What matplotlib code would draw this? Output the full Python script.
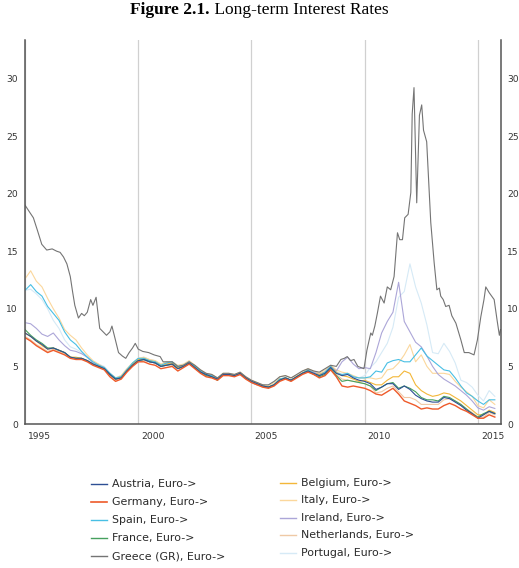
import numpy as np
import matplotlib
matplotlib.use("Agg")
import matplotlib.pyplot as plt
import matplotlib.transforms as mtransforms
from matplotlib.lines import Line2D

# ---------------- data (quarterly) ----------------
years = np.arange(1995, 2016, 0.25)  # 1995.00 ... 2015.75

austria = [7.9, 7.6, 7.2, 6.9, 6.5, 6.6, 6.4, 6.2, 5.8, 5.7, 5.7, 5.5, 5.2, 5.0, 4.8, 4.3,
           3.9, 4.0, 4.6, 5.1, 5.5, 5.6, 5.4, 5.3, 5.0, 5.1, 5.2, 4.8, 5.0, 5.3, 4.9, 4.5,
           4.3, 4.1, 3.9, 4.3, 4.3, 4.2, 4.4, 4.0, 3.7, 3.5, 3.3, 3.2, 3.4, 3.8, 4.0, 3.8,
           4.1, 4.4, 4.6, 4.4, 4.2, 4.4, 4.9, 4.4, 4.2, 4.3, 4.0, 3.8, 3.7, 3.5, 3.0, 3.2,
           3.5, 3.5, 3.0, 3.3, 3.0, 2.5, 2.2, 2.0, 1.9, 1.9, 2.3, 2.2, 1.9, 1.6, 1.2, 0.9,
           0.5, 0.8, 1.1, 0.9]
germany = [7.5, 7.2, 6.8, 6.5, 6.2, 6.4, 6.2, 6.0, 5.7, 5.6, 5.6, 5.4, 5.1, 4.9, 4.7, 4.1,
           3.7, 3.9, 4.5, 5.0, 5.4, 5.4, 5.2, 5.1, 4.8, 4.9, 5.0, 4.6, 4.9, 5.2, 4.8, 4.4,
           4.1, 4.0, 3.8, 4.2, 4.2, 4.1, 4.3, 3.9, 3.6, 3.4, 3.2, 3.1, 3.3, 3.7, 3.9, 3.7,
           4.0, 4.3, 4.5, 4.3, 4.0, 4.2, 4.7, 4.1, 3.3, 3.2, 3.3, 3.2, 3.1, 2.9, 2.6, 2.5,
           2.8, 3.1, 2.6, 2.0, 1.8, 1.6, 1.3, 1.4, 1.3, 1.3, 1.6, 1.8, 1.6, 1.3, 1.1, 0.8,
           0.5, 0.5, 0.8, 0.6]
spain = [11.6, 12.1, 11.5, 11.1, 10.2, 9.6, 9.0, 8.0, 7.3, 6.9, 6.3, 5.8, 5.4, 5.1, 4.9, 4.4,
         4.0, 4.1, 4.7, 5.3, 5.7, 5.7, 5.5, 5.4, 5.1, 5.3, 5.4, 5.0, 5.1, 5.4, 5.0, 4.6,
         4.3, 4.2, 3.9, 4.3, 4.3, 4.2, 4.4, 4.0, 3.7, 3.5, 3.3, 3.2, 3.4, 3.9, 4.0, 3.8,
         4.1, 4.4, 4.7, 4.4, 4.2, 4.5, 5.0, 4.4, 4.3, 4.4, 4.1, 4.0, 4.0, 4.1, 4.6, 4.5,
         5.3, 5.5, 5.6, 5.4, 5.4, 6.0, 6.6, 5.9, 5.5, 5.1, 4.7, 4.6, 4.0, 3.3, 2.7, 2.4,
         2.0, 1.7, 2.1, 2.1]
france = [8.2, 7.7, 7.3, 7.0, 6.6, 6.6, 6.4, 6.2, 5.8, 5.7, 5.7, 5.5, 5.2, 5.0, 4.8, 4.3,
          3.9, 4.0, 4.6, 5.1, 5.5, 5.6, 5.4, 5.3, 5.0, 5.1, 5.2, 4.8, 5.0, 5.3, 4.9, 4.5,
          4.2, 4.1, 3.8, 4.3, 4.3, 4.2, 4.4, 4.0, 3.7, 3.5, 3.3, 3.2, 3.4, 3.8, 4.0, 3.8,
          4.1, 4.4, 4.6, 4.3, 4.1, 4.3, 4.8, 4.2, 3.7, 3.8, 3.7, 3.6, 3.5, 3.3, 2.9, 3.2,
          3.5, 3.6, 3.1, 3.3, 3.1, 2.8, 2.3, 2.1, 2.1, 2.0, 2.4, 2.3, 2.0, 1.7, 1.3, 0.9,
          0.6, 0.9, 1.1, 0.9]
belgium = [7.9, 7.6, 7.2, 6.8, 6.5, 6.6, 6.4, 6.2, 5.8, 5.8, 5.7, 5.5, 5.2, 5.0, 4.8, 4.3,
           3.9, 4.1, 4.7, 5.2, 5.6, 5.7, 5.5, 5.4, 5.1, 5.2, 5.3, 4.9, 5.1, 5.3, 5.0, 4.6,
           4.3, 4.2, 3.9, 4.3, 4.3, 4.2, 4.4, 4.0, 3.7, 3.5, 3.3, 3.2, 3.4, 3.9, 4.0, 3.8,
           4.1, 4.4, 4.7, 4.4, 4.3, 4.5, 5.0, 4.5, 4.2, 4.1, 3.9, 3.7, 3.8, 3.6, 3.4, 3.4,
           3.8, 4.1, 4.1, 4.6, 4.4, 3.4, 2.9, 2.6, 2.4, 2.5, 2.7, 2.6, 2.3, 2.0, 1.6, 1.2,
           0.8, 0.8, 1.2, 1.0]
italy = [12.6, 13.3, 12.4, 11.9, 10.9, 10.0, 9.2, 8.2, 7.7, 7.3, 6.6, 6.0, 5.5, 5.2, 4.9, 4.4,
         4.0, 4.2, 4.8, 5.3, 5.7, 5.8, 5.6, 5.5, 5.2, 5.4, 5.4, 5.1, 5.2, 5.5, 5.1, 4.7,
         4.4, 4.3, 4.0, 4.4, 4.4, 4.3, 4.5, 4.1, 3.8, 3.6, 3.4, 3.3, 3.6, 4.1, 4.2, 4.0,
         4.2, 4.6, 4.8, 4.6, 4.4, 4.7, 5.1, 4.7, 4.5, 4.4, 4.2, 4.0, 4.0, 4.0, 3.9, 4.0,
         4.7, 4.8, 5.3, 6.0, 6.9, 5.4, 6.0, 5.0, 4.4, 4.4, 4.4, 4.3, 3.7, 3.2, 2.8, 2.4,
         1.6, 1.4, 2.1, 1.7]
ireland = [8.8, 8.7, 8.3, 7.8, 7.6, 7.9, 7.3, 6.8, 6.4, 6.3, 6.1, 5.8, 5.3, 5.1, 4.9, 4.4,
           3.9, 4.1, 4.7, 5.2, 5.6, 5.6, 5.4, 5.3, 5.0, 5.2, 5.3, 4.9, 5.0, 5.3, 5.0, 4.6,
           4.3, 4.2, 3.9, 4.3, 4.3, 4.2, 4.3, 4.0, 3.6, 3.4, 3.3, 3.2, 3.4, 3.9, 4.0, 3.8,
           4.1, 4.4, 4.7, 4.5, 4.3, 4.5, 5.0, 4.6, 5.4, 5.8, 5.2, 4.8, 4.9, 4.8, 6.2, 7.9,
           8.9, 9.7, 12.3, 8.9, 8.0, 7.1, 6.7, 5.9, 5.0, 4.3, 3.9, 3.6, 3.3, 2.9, 2.5, 2.0,
           1.4, 1.2, 1.5, 1.35]
netherlands = [7.6, 7.3, 6.9, 6.6, 6.3, 6.5, 6.3, 6.1, 5.8, 5.7, 5.7, 5.5, 5.2, 5.0, 4.8, 4.2,
               3.8, 4.0, 4.6, 5.1, 5.5, 5.5, 5.4, 5.3, 5.0, 5.1, 5.1, 4.8, 5.0, 5.3, 4.9, 4.5,
               4.2, 4.1, 3.8, 4.3, 4.3, 4.2, 4.3, 3.9, 3.6, 3.4, 3.2, 3.2, 3.4, 3.8, 3.9, 3.8,
               4.1, 4.4, 4.6, 4.3, 4.2, 4.3, 4.8, 4.3, 3.9, 3.8, 3.7, 3.6, 3.5, 3.3, 2.7, 2.8,
               3.1, 3.3, 2.8, 2.3, 2.3, 2.1, 1.7, 1.7, 1.7, 1.7, 2.1, 2.2, 2.0, 1.7, 1.3, 1.0,
               0.6, 0.6, 1.0, 0.8]
portugal = [11.6, 11.7, 11.3, 10.8, 10.0, 9.0, 8.3, 7.3, 6.7, 6.5, 6.2, 5.8, 5.3, 5.2, 5.0, 4.4,
            4.0, 4.2, 4.8, 5.3, 5.7, 5.8, 5.6, 5.5, 5.2, 5.3, 5.4, 5.0, 5.1, 5.4, 5.0, 4.7,
            4.3, 4.2, 4.0, 4.3, 4.3, 4.3, 4.4, 4.0, 3.7, 3.5, 3.3, 3.3, 3.5, 3.9, 4.1, 3.8,
            4.1, 4.5, 4.7, 4.5, 4.3, 4.6, 5.0, 4.6, 4.3, 4.3, 4.1, 4.0, 4.2, 4.9, 5.4, 6.2,
            7.0, 8.4, 11.0, 11.5, 13.9, 11.9, 10.5, 8.6, 6.2, 6.1, 7.0, 6.3, 5.3, 3.8, 3.6, 3.2,
            2.5, 2.0, 2.9, 2.4]

greece_years = [1995.0, 1995.2, 1995.37, 1995.55, 1995.74, 1995.96, 1996.2, 1996.4, 1996.55,
                1996.7, 1996.85, 1997.0, 1997.1, 1997.2, 1997.36, 1997.5, 1997.62, 1997.75,
                1997.9, 1998.0, 1998.14, 1998.3, 1998.45, 1998.6, 1998.75, 1998.84, 1998.98,
                1999.13, 1999.3, 1999.45, 1999.6, 1999.75, 1999.87, 2000.0, 2000.2, 2000.46,
                2000.7, 2000.97, 2001.1, 2001.25, 2001.5, 2001.75, 2002.0, 2002.25, 2002.5,
                2002.75, 2003.0, 2003.25, 2003.5, 2003.75, 2004.0, 2004.25, 2004.5, 2004.75,
                2005.0, 2005.25, 2005.5, 2005.75, 2006.0, 2006.25, 2006.5, 2006.75, 2007.0,
                2007.25, 2007.5, 2007.75, 2008.0, 2008.25, 2008.5, 2008.75, 2008.95, 2009.1,
                2009.23, 2009.38, 2009.53, 2009.7, 2009.97, 2010.1, 2010.27, 2010.34, 2010.45,
                2010.56, 2010.7, 2010.86, 2011.0, 2011.15, 2011.3, 2011.45, 2011.55, 2011.67,
                2011.77, 2011.92, 2012.04, 2012.1, 2012.18, 2012.3, 2012.42, 2012.52, 2012.6,
                2012.74, 2012.92, 2013.07, 2013.19, 2013.3, 2013.36, 2013.47, 2013.58, 2013.73,
                2013.85, 2014.03, 2014.25, 2014.4, 2014.6, 2014.83, 2014.98, 2015.13, 2015.27,
                2015.35, 2015.5, 2015.72, 2015.85, 2015.95, 2016.0]
greece = [19.0, 18.4, 17.9, 16.8, 15.6, 15.1, 15.2, 15.0, 14.9,
          14.5, 13.9, 12.8, 11.5, 10.3, 9.2, 9.6, 9.4, 9.7,
          10.8, 10.3, 11.0, 8.3, 8.0, 7.7, 8.0, 8.5, 7.4,
          6.2, 5.9, 5.7, 6.2, 6.6, 7.0, 6.5, 6.3, 6.2,
          6.0, 5.85, 5.4, 5.4, 5.4, 5.0, 5.1, 5.4, 5.1,
          4.7, 4.4, 4.3, 4.0, 4.4, 4.4, 4.3, 4.5, 4.1,
          3.8, 3.6, 3.4, 3.4, 3.7, 4.1, 4.2, 4.0, 4.3,
          4.6, 4.8, 4.6, 4.5, 4.8, 5.1, 5.0, 5.6, 5.7,
          5.85, 5.5, 5.6, 5.0, 4.8, 6.4, 7.9, 7.7, 8.5,
          9.6, 11.1, 10.5, 11.9, 11.65, 12.8, 16.6, 16.0, 16.0,
          17.9, 18.2, 20.1, 26.9, 29.2, 19.2, 26.8, 27.7, 25.5,
          24.5, 17.5, 14.0, 11.65, 11.8, 11.1, 10.8, 10.2, 10.3,
          9.4, 8.75, 7.3, 6.2, 6.2, 6.0, 7.3, 9.3, 10.8,
          11.9, 11.4, 10.8, 9.0, 7.7, 8.2]

labels = ["Austria, Euro->", "Germany, Euro->", "Spain, Euro->", "France, Euro->",
          "Greece (GR), Euro->", "Belgium, Euro->", "Italy, Euro->", "Ireland, Euro->",
          "Netherlands, Euro->", "Portugal, Euro->"]
year_ticks = [1995, 2000, 2005, 2010, 2015]
value_ticks = [0, 5, 10, 15, 20, 25, 30]

colors = {
    "Austria, Euro->": "#2d4f94",
    "Germany, Euro->": "#ee5a2a",
    "Spain, Euro->": "#48bfe4",
    "France, Euro->": "#46a05e",
    "Greece (GR), Euro->": "#747474",
    "Belgium, Euro->": "#f3b739",
    "Italy, Euro->": "#fbd79c",
    "Ireland, Euro->": "#aca6d8",
    "Netherlands, Euro->": "#efc9a5",
    "Portugal, Euro->": "#d6eaf6",
}
widths = {lab: 0.8 for lab in labels}
widths["Germany, Euro->"] = 1.0

series = {
    "Austria, Euro->": (years, austria),
    "Germany, Euro->": (years, germany),
    "Spain, Euro->": (years, spain),
    "France, Euro->": (years, france),
    "Greece (GR), Euro->": (greece_years, greece),
    "Belgium, Euro->": (years, belgium),
    "Italy, Euro->": (years, italy),
    "Ireland, Euro->": (years, ireland),
    "Netherlands, Euro->": (years, netherlands),
    "Portugal, Euro->": (years, portugal),
}
draw_order = ["Portugal, Euro->", "Netherlands, Euro->", "Italy, Euro->", "Ireland, Euro->",
              "Belgium, Euro->", "Spain, Euro->", "France, Euro->", "Austria, Euro->",
              "Germany, Euro->", "Greece (GR), Euro->"]

# ---------------- figure ----------------
W, H = 519, 568
fig = plt.figure(figsize=(W / 100, H / 100), dpi=100)
fig.patch.set_facecolor("white")

ax_left, ax_right, ax_top, ax_bottom = 25, 500.5, 40, 424
ax = fig.add_axes([ax_left / W, 1 - ax_bottom / H,
                   (ax_right - ax_left) / W, (ax_bottom - ax_top) / H])

for lab in draw_order:
    xs, ys = series[lab]
    ax.plot(xs, ys, color=colors[lab], lw=widths[lab], solid_joinstyle="round")

ax.set_xlim(1995, 2016.0)
ax.set_ylim(0, (ax_bottom - ax_top) / 11.52)

ax.set_xticks(year_ticks)
ax.set_xticklabels([str(y) for y in year_ticks])
ax.set_yticks(value_ticks)
ax.set_yticklabels([str(v) for v in value_ticks])

ax.grid(axis="x", color="#d0d0d0", lw=0.9)
ax.set_axisbelow(True)

ax.spines["top"].set_visible(False)
for s in ["left", "right", "bottom"]:
    ax.spines[s].set_color("#555555")
    ax.spines[s].set_linewidth(1.1)

ax.tick_params(axis="both", length=0, labelsize=6.6, labelcolor="#333333")
ax.tick_params(axis="y", labelright=True, pad=5)
ax.tick_params(axis="x", pad=6)

offset = mtransforms.ScaledTranslation(3 / 100, 0, fig.dpi_scale_trans)
for t in ax.get_xticklabels():
    t.set_horizontalalignment("left")
    t.set_transform(t.get_transform() + offset)

# ---------------- title ----------------
fig.canvas.draw()
renderer = fig.canvas.get_renderer()
t1 = fig.text(0, 1 - 10 / H, "Figure 2.1.", fontweight="bold",
              family="Liberation Serif", fontsize=12.5, va="center", ha="left")
t2 = fig.text(0, 1 - 10 / H, " Long-term Interest Rates",
              family="Liberation Serif", fontsize=12.5, va="center", ha="left")
w1 = t1.get_window_extent(renderer).width
w2 = t2.get_window_extent(renderer).width
x0 = (W / 2 - (w1 + w2) / 2)
t1.set_x(x0 / W)
t2.set_x((x0 + w1) / W)

# ---------------- legend (manual) ----------------
left_col = labels[:5]
right_col = labels[5:]
rows_left = [483.5, 501.7, 519.9, 538.0, 556.2]
rows_right = [482.5, 500.0, 517.5, 535.0, 553.0]


def legend_entry(lab, y, x_line0, x_line1, x_text):
    fig.add_artist(Line2D([x_line0 / W, x_line1 / W], [1 - y / H, 1 - y / H],
                          color=colors[lab], lw=1.2 if lab.startswith("Germany") else 1.0,
                          transform=fig.transFigure))
    fig.text(x_text / W, 1 - y / H, lab, fontsize=7.9, color="#2a2a2a",
             va="center", ha="left", family="DejaVu Sans")


for lab, y in zip(left_col, rows_left):
    legend_entry(lab, y, 91, 107, 112)
for lab, y in zip(right_col, rows_right):
    legend_entry(lab, y, 280, 296, 301)

fig.savefig("out.png", dpi=100, facecolor="white")
